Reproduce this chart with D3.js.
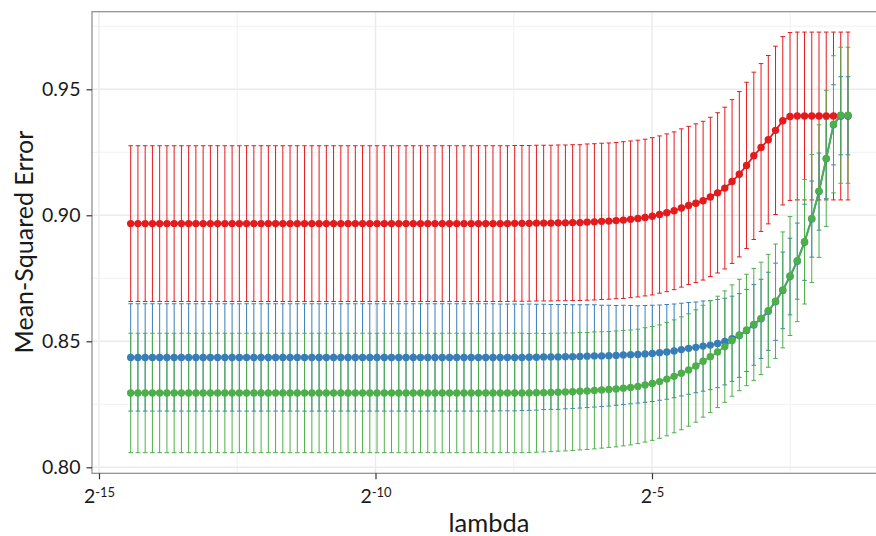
<!DOCTYPE html>
<html>
<head>
<meta charset="utf-8">
<script src="https://cdn.jsdelivr.net/npm/d3@7"></script>
<style>
  html, body { margin: 0; padding: 0; background: #fff; }
  svg text { font-family: Lato, "Open Sans", "DejaVu Sans", sans-serif; fill: #1a1a1a; }
</style>
</head>
<body>
<svg id="chart" width="876" height="536"></svg>
<script>
// log2 of the penalty grid (100 values)
const log2Lambda = [
  -14.427, -14.296, -14.165, -14.034, -13.903, -13.772, -13.641, -13.510, -13.379, -13.248,
  -13.117, -12.986, -12.855, -12.724, -12.593, -12.462, -12.331, -12.200, -12.069, -11.938,
  -11.807, -11.676, -11.545, -11.414, -11.283, -11.151, -11.020, -10.889, -10.758, -10.627,
  -10.496, -10.365, -10.234, -10.103, -9.972, -9.841, -9.710, -9.579, -9.448, -9.317,
  -9.186, -9.055, -8.924, -8.793, -8.662, -8.531, -8.400, -8.269, -8.138, -8.007,
  -7.876, -7.745, -7.614, -7.483, -7.352, -7.221, -7.090, -6.959, -6.828, -6.697,
  -6.566, -6.435, -6.304, -6.173, -6.042, -5.911, -5.780, -5.649, -5.518, -5.387,
  -5.256, -5.125, -4.994, -4.863, -4.732, -4.600, -4.469, -4.338, -4.207, -4.076,
  -3.945, -3.814, -3.683, -3.552, -3.421, -3.290, -3.159, -3.028, -2.897, -2.766,
  -2.635, -2.504, -2.373, -2.242, -2.111, -1.980, -1.849, -1.718, -1.587, -1.456
];

// cross-validated mean-squared error and its standard error, one pair per curve
const mseRed = [
  0.8967, 0.8967, 0.8967, 0.8967, 0.8967, 0.8967, 0.8967, 0.8967, 0.8967, 0.8967,
  0.8967, 0.8967, 0.8967, 0.8967, 0.8967, 0.8967, 0.8967, 0.8967, 0.8967, 0.8967,
  0.8967, 0.8967, 0.8967, 0.8967, 0.8967, 0.8967, 0.8967, 0.8967, 0.8967, 0.8967,
  0.8967, 0.8967, 0.8967, 0.8967, 0.8967, 0.8967, 0.8967, 0.8967, 0.8967, 0.8967,
  0.8967, 0.8967, 0.8967, 0.8967, 0.8967, 0.8967, 0.8967, 0.8967, 0.8967, 0.8967,
  0.8967, 0.8967, 0.8967, 0.8968, 0.8968, 0.8968, 0.8969, 0.8969, 0.8969, 0.8970,
  0.8970, 0.8971, 0.8971, 0.8973, 0.8974, 0.8976, 0.8977, 0.8979, 0.8981, 0.8984,
  0.8987, 0.8991, 0.8996, 0.9003, 0.9010, 0.9018, 0.9029, 0.9039, 0.9048, 0.9058,
  0.9073, 0.9089, 0.9108, 0.9134, 0.9163, 0.9198, 0.9236, 0.9269, 0.9300, 0.9337,
  0.9375, 0.9392, 0.9394, 0.9394, 0.9394, 0.9394, 0.9394, 0.9394, 0.9394, 0.9394
];
const sdRed = [
  0.0309, 0.0309, 0.0309, 0.0309, 0.0309, 0.0309, 0.0309, 0.0309, 0.0309, 0.0309,
  0.0309, 0.0309, 0.0309, 0.0309, 0.0309, 0.0309, 0.0309, 0.0309, 0.0309, 0.0309,
  0.0309, 0.0309, 0.0309, 0.0309, 0.0309, 0.0309, 0.0309, 0.0309, 0.0309, 0.0309,
  0.0309, 0.0309, 0.0309, 0.0309, 0.0309, 0.0309, 0.0309, 0.0309, 0.0309, 0.0309,
  0.0309, 0.0309, 0.0309, 0.0309, 0.0309, 0.0309, 0.0309, 0.0309, 0.0309, 0.0309,
  0.0309, 0.0309, 0.0309, 0.0309, 0.0309, 0.0309, 0.0309, 0.0309, 0.0309, 0.0309,
  0.0309, 0.0309, 0.0309, 0.0310, 0.0310, 0.0310, 0.0310, 0.0310, 0.0311, 0.0311,
  0.0311, 0.0311, 0.0312, 0.0312, 0.0313, 0.0313, 0.0314, 0.0314, 0.0315, 0.0315,
  0.0316, 0.0318, 0.0321, 0.0325, 0.0328, 0.0330, 0.0332, 0.0333, 0.0334, 0.0334,
  0.0334, 0.0333, 0.0333, 0.0333, 0.0333, 0.0333, 0.0333, 0.0333, 0.0333, 0.0333
];
const mseBlue = [
  0.8436, 0.8436, 0.8436, 0.8436, 0.8436, 0.8436, 0.8436, 0.8436, 0.8436, 0.8436,
  0.8436, 0.8436, 0.8436, 0.8436, 0.8436, 0.8436, 0.8436, 0.8436, 0.8436, 0.8436,
  0.8436, 0.8436, 0.8436, 0.8436, 0.8436, 0.8436, 0.8436, 0.8436, 0.8436, 0.8436,
  0.8436, 0.8436, 0.8436, 0.8436, 0.8436, 0.8436, 0.8436, 0.8436, 0.8436, 0.8436,
  0.8436, 0.8436, 0.8436, 0.8436, 0.8436, 0.8436, 0.8436, 0.8436, 0.8436, 0.8436,
  0.8436, 0.8436, 0.8436, 0.8436, 0.8436, 0.8437, 0.8437, 0.8438, 0.8438, 0.8438,
  0.8439, 0.8439, 0.8440, 0.8441, 0.8442, 0.8442, 0.8443, 0.8444, 0.8446, 0.8447,
  0.8448, 0.8450, 0.8452, 0.8455, 0.8458, 0.8462, 0.8467, 0.8472, 0.8476, 0.8481,
  0.8485, 0.8491, 0.8499, 0.8510, 0.8523, 0.8543, 0.8565, 0.8589, 0.8619, 0.8657,
  0.8702, 0.8757, 0.8818, 0.8893, 0.8985, 0.9094, 0.9224, 0.9359, 0.9395, 0.9395
];
const sdBlue = [
  0.0213, 0.0213, 0.0213, 0.0213, 0.0213, 0.0213, 0.0213, 0.0213, 0.0213, 0.0213,
  0.0213, 0.0213, 0.0213, 0.0213, 0.0213, 0.0213, 0.0213, 0.0213, 0.0213, 0.0213,
  0.0213, 0.0213, 0.0213, 0.0213, 0.0213, 0.0213, 0.0213, 0.0213, 0.0213, 0.0213,
  0.0213, 0.0213, 0.0213, 0.0213, 0.0213, 0.0213, 0.0213, 0.0213, 0.0213, 0.0213,
  0.0213, 0.0213, 0.0213, 0.0213, 0.0213, 0.0213, 0.0213, 0.0213, 0.0213, 0.0213,
  0.0213, 0.0212, 0.0212, 0.0212, 0.0211, 0.0211, 0.0210, 0.0209, 0.0208, 0.0208,
  0.0207, 0.0206, 0.0205, 0.0204, 0.0203, 0.0201, 0.0200, 0.0198, 0.0197, 0.0195,
  0.0193, 0.0192, 0.0191, 0.0189, 0.0188, 0.0186, 0.0184, 0.0182, 0.0180, 0.0179,
  0.0177, 0.0175, 0.0172, 0.0169, 0.0166, 0.0163, 0.0160, 0.0157, 0.0155, 0.0153,
  0.0152, 0.0152, 0.0151, 0.0151, 0.0151, 0.0153, 0.0158, 0.0159, 0.0155, 0.0155
];
const mseGreen = [
  0.8295, 0.8295, 0.8295, 0.8295, 0.8295, 0.8295, 0.8295, 0.8295, 0.8295, 0.8295,
  0.8295, 0.8295, 0.8295, 0.8295, 0.8295, 0.8295, 0.8295, 0.8295, 0.8295, 0.8295,
  0.8295, 0.8295, 0.8295, 0.8295, 0.8295, 0.8295, 0.8295, 0.8295, 0.8295, 0.8295,
  0.8295, 0.8295, 0.8295, 0.8295, 0.8295, 0.8295, 0.8295, 0.8295, 0.8295, 0.8295,
  0.8295, 0.8295, 0.8295, 0.8295, 0.8295, 0.8295, 0.8295, 0.8295, 0.8295, 0.8295,
  0.8295, 0.8295, 0.8295, 0.8295, 0.8295, 0.8295, 0.8296, 0.8296, 0.8297, 0.8298,
  0.8299, 0.8300, 0.8302, 0.8303, 0.8305, 0.8307, 0.8309, 0.8311, 0.8314, 0.8317,
  0.8321, 0.8327, 0.8333, 0.8340, 0.8350, 0.8361, 0.8373, 0.8386, 0.8402, 0.8421,
  0.8439, 0.8458, 0.8479, 0.8503, 0.8525, 0.8545, 0.8567, 0.8591, 0.8621, 0.8659,
  0.8704, 0.8759, 0.8820, 0.8895, 0.8987, 0.9096, 0.9226, 0.9361, 0.9397, 0.9397
];
const sdGreen = [
  0.0237, 0.0237, 0.0237, 0.0237, 0.0237, 0.0237, 0.0237, 0.0237, 0.0237, 0.0237,
  0.0237, 0.0237, 0.0237, 0.0237, 0.0237, 0.0237, 0.0237, 0.0237, 0.0237, 0.0237,
  0.0237, 0.0237, 0.0237, 0.0237, 0.0237, 0.0237, 0.0237, 0.0237, 0.0237, 0.0237,
  0.0237, 0.0237, 0.0237, 0.0237, 0.0237, 0.0237, 0.0237, 0.0237, 0.0237, 0.0237,
  0.0237, 0.0237, 0.0237, 0.0237, 0.0237, 0.0237, 0.0237, 0.0237, 0.0237, 0.0237,
  0.0237, 0.0237, 0.0237, 0.0237, 0.0237, 0.0236, 0.0236, 0.0235, 0.0235, 0.0234,
  0.0234, 0.0233, 0.0233, 0.0232, 0.0232, 0.0231, 0.0230, 0.0230, 0.0229, 0.0228,
  0.0227, 0.0227, 0.0226, 0.0225, 0.0225, 0.0224, 0.0224, 0.0223, 0.0223, 0.0222,
  0.0222, 0.0221, 0.0221, 0.0221, 0.0221, 0.0221, 0.0222, 0.0223, 0.0224, 0.0227,
  0.0230, 0.0236, 0.0242, 0.0247, 0.0254, 0.0263, 0.0270, 0.0272, 0.0270, 0.0270
];

const colorRed = "#E41A1C", colorBlue = "#377EB8", colorGreen = "#4DAF4A";

const yTicks = [0.80, 0.85, 0.90, 0.95];
const yMinor = [0.825, 0.875, 0.925, 0.975];
const xTickExp = [-15, -10, -5];
const xMinorExp = [-12.5, -7.5, -2.5];
const xLabel = "lambda";
const yLabel = "Mean-Squared Error";

// ---- layout ----
const panel = { left: 92, top: 11.7, right: 886, bottom: 473.3 };

const svg = d3.select("#chart");
svg.append("rect").attr("width", 876).attr("height", 536).attr("fill", "#fff");

const x = d3.scaleLog().base(2)
  .domain([Math.pow(2, -15.1266), Math.pow(2, -0.7685)])
  .range([panel.left, panel.right]);
const y = d3.scaleLinear()
  .domain([0.79762, 0.98079])
  .range([panel.bottom, panel.top]);

// gridlines
const grid = svg.append("g");
grid.selectAll("line.ymin").data(yMinor).join("line")
  .attr("x1", panel.left).attr("x2", panel.right)
  .attr("y1", d => y(d)).attr("y2", d => y(d))
  .attr("stroke", "#f4f4f4").attr("stroke-width", 1.2);
grid.selectAll("line.xmin").data(xMinorExp).join("line")
  .attr("x1", d => x(Math.pow(2, d))).attr("x2", d => x(Math.pow(2, d)))
  .attr("y1", panel.top).attr("y2", panel.bottom)
  .attr("stroke", "#f4f4f4").attr("stroke-width", 1.2);
grid.selectAll("line.ymaj").data(yTicks).join("line")
  .attr("x1", panel.left).attr("x2", panel.right)
  .attr("y1", d => y(d)).attr("y2", d => y(d))
  .attr("stroke", "#ebebeb").attr("stroke-width", 1.4);
grid.selectAll("line.xmaj").data(xTickExp).join("line")
  .attr("x1", d => x(Math.pow(2, d))).attr("x2", d => x(Math.pow(2, d)))
  .attr("y1", panel.top).attr("y2", panel.bottom)
  .attr("stroke", "#ebebeb").attr("stroke-width", 1.4);

// series records
const series = [
  { mse: mseRed, sd: sdRed, color: colorRed },
  { mse: mseBlue, sd: sdBlue, color: colorBlue },
  { mse: mseGreen, sd: sdGreen, color: colorGreen }
].map(s => ({
  color: s.color,
  pts: log2Lambda.map((l, i) => ({ lam: Math.pow(2, l), m: s.mse[i], sd: s.sd[i] }))
}));

const plot = svg.append("g");
const capW = 2.3;

// error bars (all curves first)
series.forEach(s => {
  const g = plot.append("g").attr("stroke", s.color).attr("stroke-width", 1).attr("fill", "none");
  g.selectAll("path").data(s.pts).join("path")
    .attr("d", d => {
      const cx = x(d.lam), hi = y(d.m + d.sd), lo = y(d.m - d.sd);
      return `M${cx - capW},${hi}H${cx + capW}M${cx},${hi}V${lo}M${cx - capW},${lo}H${cx + capW}`;
    });
});

// connecting lines
const line = d3.line().x(d => x(d.lam)).y(d => y(d.m));
series.forEach(s => {
  plot.append("path").datum(s.pts)
    .attr("d", line).attr("fill", "none")
    .attr("stroke", s.color).attr("stroke-width", 1.8);
});

// points
series.forEach(s => {
  plot.append("g").attr("fill", s.color)
    .selectAll("circle").data(s.pts).join("circle")
    .attr("cx", d => x(d.lam)).attr("cy", d => y(d.m)).attr("r", 3.7);
});

// panel border
svg.append("rect")
  .attr("x", panel.left).attr("y", panel.top)
  .attr("width", panel.right - panel.left).attr("height", panel.bottom - panel.top)
  .attr("fill", "none").attr("stroke", "#8a8a8a").attr("stroke-width", 1.2);

// y axis
const yAxis = svg.append("g").attr("transform", `translate(${panel.left},0)`)
  .call(d3.axisLeft(y).tickValues(yTicks).tickSize(5.5).tickPadding(6).tickFormat(d3.format(".2f")));
yAxis.select(".domain").remove();
yAxis.selectAll(".tick line").attr("stroke", "#333").attr("stroke-width", 1.2);
yAxis.selectAll(".tick text").attr("font-size", 19.5).attr("fill", "#1a1a1a")
  .attr("font-family", "Lato, 'Open Sans', sans-serif");

// x axis with power-of-two labels
const xAxis = svg.append("g").attr("transform", `translate(0,${panel.bottom})`)
  .call(d3.axisBottom(x).tickValues(xTickExp.map(e => Math.pow(2, e))).tickSize(6).tickFormat(""));
xAxis.select(".domain").remove();
xAxis.selectAll(".tick line").attr("stroke", "#333").attr("stroke-width", 1.2);
xAxis.selectAll(".tick text").remove();
xAxis.selectAll(".tick").each(function (d) {
  const t = d3.select(this).append("text")
    .attr("text-anchor", "middle").attr("y", 29.4).attr("fill", "#1a1a1a");
  t.append("tspan").attr("font-size", 19.5).text("2");
  t.append("tspan").attr("font-size", 13).attr("dy", -6)
    .text(String(Math.round(Math.log2(d))));
});

// axis titles
svg.append("text")
  .attr("x", 489).attr("y", 531.5).attr("text-anchor", "middle")
  .attr("font-size", 25.5).text(xLabel);
svg.append("text")
  .attr("transform", "translate(33,242) rotate(-90)")
  .attr("text-anchor", "middle").attr("font-size", 25).text(yLabel);
</script>
</body>
</html>
